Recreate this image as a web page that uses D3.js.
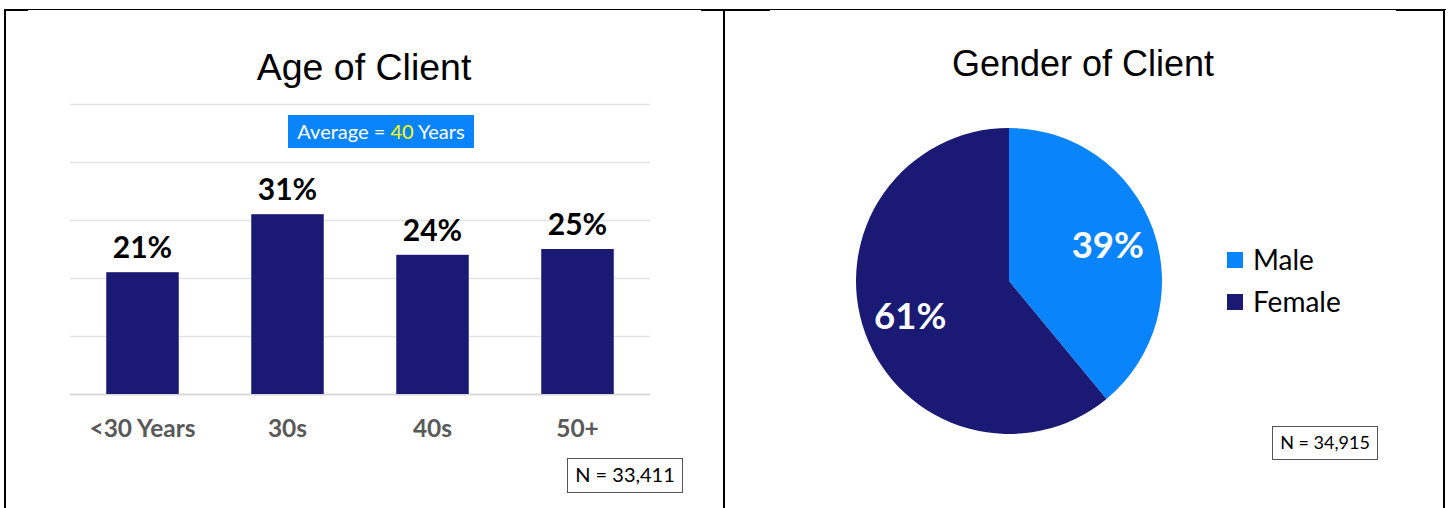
<!DOCTYPE html>
<html><head><meta charset="utf-8">
<script src="https://cdn.jsdelivr.net/npm/d3@7"></script>
<style>body{margin:0;background:#fff}svg{display:block}</style>
</head><body>
<svg id="c" width="1450" height="508"></svg>
<script>
const ageCategories = ["<30 Years", "30s", "40s", "50+"];
const ageValues = [21, 31, 24, 25];
const ageTicks = [0, 10, 20, 30, 40, 50];
const genderCategories = ["Male", "Female"];
const genderValues = [39, 61];
const ageTitle = "Age of Client";
const genderTitle = "Gender of Client";
const ageN = "N = 33,411";
const genderN = "N = 34,915";
const averageAge = 40;

const navy = "#1a1a75", blue = "#0a84fb";
const body = "Lato, 'Noto Sans', sans-serif";
const titleFont = "'Liberation Sans', Arial, sans-serif";
const svg = d3.select("#c");

// frame
const fr = svg.append("g").attr("fill","none").attr("stroke","#000");
fr.append("line").attr("x1",4).attr("x2",1446).attr("y1",9.5).attr("y2",9.5).attr("stroke-width",1);
fr.append("line").attr("x1",4).attr("x2",28).attr("y1",10).attr("y2",10).attr("stroke-width",2);
fr.append("line").attr("x1",701).attr("x2",770).attr("y1",10).attr("y2",10).attr("stroke-width",2);
fr.append("line").attr("x1",1396).attr("x2",1445).attr("y1",10).attr("y2",10).attr("stroke-width",2);
fr.append("line").attr("x1",5).attr("x2",5).attr("y1",9).attr("y2",508).attr("stroke-width",2);
fr.append("line").attr("x1",724).attr("x2",724).attr("y1",9).attr("y2",508).attr("stroke-width",2);
fr.append("line").attr("x1",1444).attr("x2",1444).attr("y1",9).attr("y2",508).attr("stroke-width",2);

// ---------- bar chart ----------
const x = d3.scaleBand().domain(ageCategories).range([70, 650]).paddingInner(0.5).paddingOuter(0.25);
const y = d3.scaleLinear().domain([0, 50]).range([394, 104]);

svg.append("text").attr("x",364).attr("y",80).attr("text-anchor","middle")
  .attr("font-family",titleFont).attr("font-size",37.5).attr("fill","#000").text(ageTitle);

const grid = svg.append("g");
grid.selectAll("line").data(ageTicks).join("line")
  .attr("x1",70).attr("x2",650).attr("y1",d=>Math.round(y(d))+0.5).attr("y2",d=>Math.round(y(d))+0.5)
  .attr("stroke",d=>d===0?"#d9d9d9":"#e3e3e3").attr("stroke-width",d=>d===0?2:1.5);

svg.append("g").selectAll("rect").data(ageValues).join("rect")
  .attr("x",(d,i)=>x(ageCategories[i])).attr("width",x.bandwidth())
  .attr("y",d=>y(d)).attr("height",d=>y(0)-y(d)).attr("fill",navy);

svg.append("g").selectAll("text").data(ageValues).join("text")
  .attr("x",(d,i)=>x(ageCategories[i])+x.bandwidth()/2).attr("y",d=>y(d)-14)
  .attr("text-anchor","middle").attr("font-family",body).attr("font-weight","bold")
  .attr("font-size",30).attr("fill","#000").text(d=>d+"%");

const xAxis = svg.append("g").attr("transform","translate(0,394)")
  .call(d3.axisBottom(x).tickSize(0).tickPadding(0));
xAxis.select(".domain").remove();
xAxis.selectAll("text").attr("y",43).attr("dy",0).attr("font-family",body).attr("font-weight","bold")
  .attr("font-size",24.5).attr("fill","#595959");

// average box
svg.append("rect").attr("x",288).attr("y",115).attr("width",186).attr("height",33).attr("fill",blue);
const avg = svg.append("text").attr("x",381).attr("y",139).attr("text-anchor","middle")
  .attr("font-family",body).attr("font-size",20).attr("fill","#fff");
avg.append("tspan").text("Average = ");
avg.append("tspan").attr("fill","#ffff00").text(averageAge);
avg.append("tspan").text(" Years");

// N box left
svg.append("rect").attr("x",567.5).attr("y",458.5).attr("width",115).attr("height",34)
  .attr("fill","#fff").attr("stroke","#555").attr("stroke-width",1);
svg.append("text").attr("x",625).attr("y",482).attr("text-anchor","middle")
  .attr("font-family",body).attr("font-size",20).attr("fill","#000").text(ageN);

// ---------- pie chart ----------
svg.append("text").attr("x",1083).attr("y",76).attr("text-anchor","middle")
  .attr("font-family",titleFont).attr("font-size",36).attr("fill","#000").text(genderTitle);

const color = d3.scaleOrdinal().domain(genderCategories).range([blue, navy]);
const pie = d3.pie().sort(null).value(d=>d);
const arcs = pie(genderValues);
const arc = d3.arc().innerRadius(0).outerRadius(153);
const pg = svg.append("g").attr("transform","translate(1009,281)");
pg.selectAll("path").data(arcs).join("path")
  .attr("d",arc).attr("fill",(d,i)=>color(genderCategories[i]));
const labelArc = d3.arc().innerRadius(105).outerRadius(105);
pg.selectAll("text").data(arcs).join("text")
  .attr("transform",d=>`translate(${labelArc.centroid(d)})`)
  .attr("text-anchor","middle").attr("dy","0.35em")
  .attr("font-family",body).attr("font-weight","bold").attr("font-size",36.5).attr("fill","#fff")
  .text(d=>d.data+"%");

// legend
const lg = svg.append("g");
genderCategories.forEach((c,i)=>{
  const yy = 260 + i*42;
  lg.append("rect").attr("x",1227).attr("y",yy-8).attr("width",16).attr("height",16).attr("fill",color(c));
  lg.append("text").attr("x",1253).attr("y",yy).attr("dy","0.35em")
    .attr("font-family",body).attr("font-size",28).attr("fill","#000").text(c);
});

// N box right
svg.append("rect").attr("x",1272.5).attr("y",426.5).attr("width",105).attr("height",33)
  .attr("fill","#fff").attr("stroke","#555").attr("stroke-width",1);
svg.append("text").attr("x",1325).attr("y",449).attr("text-anchor","middle")
  .attr("font-family",body).attr("font-size",18).attr("fill","#000").text(genderN);
</script>
</body></html>
